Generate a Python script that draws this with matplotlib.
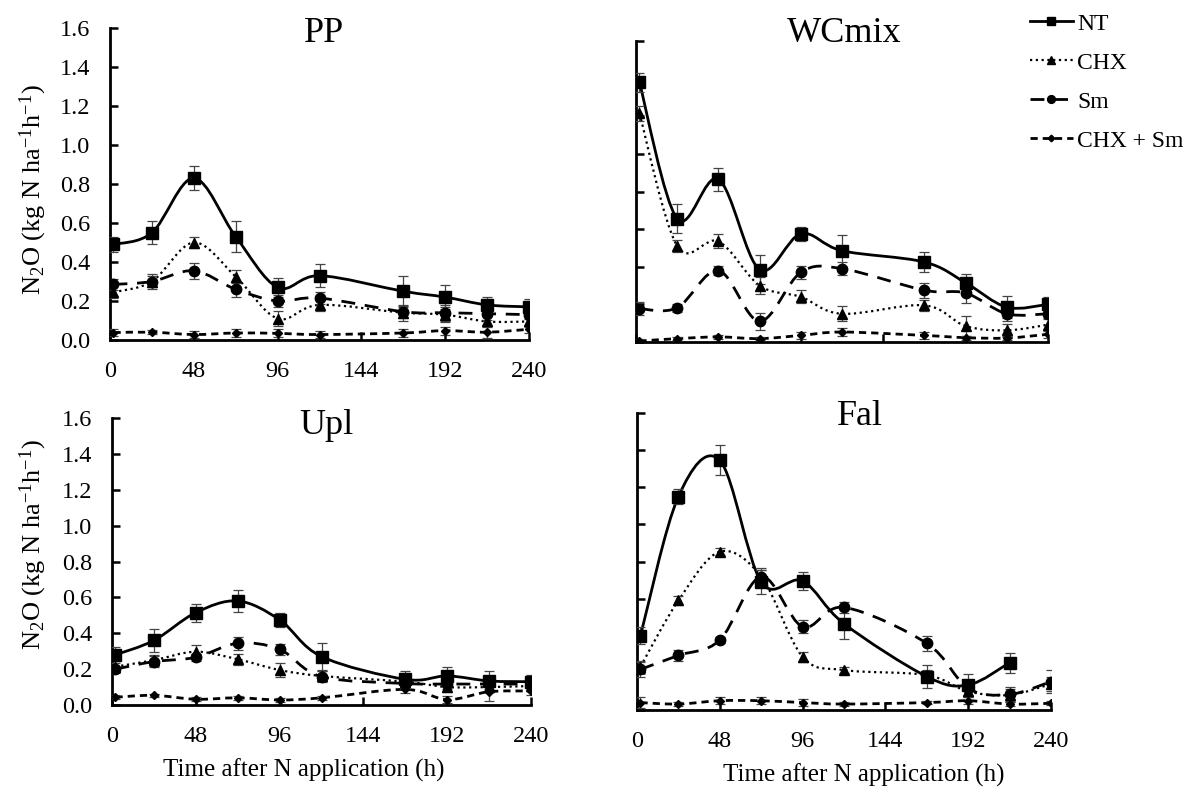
import numpy as np
import matplotlib
matplotlib.use("Agg")
import matplotlib.pyplot as plt
from matplotlib.path import Path
from matplotlib.patches import PathPatch
from matplotlib.lines import Line2D
from matplotlib.ticker import FormatStrFormatter

plt.rcParams["font.family"] = ["Liberation Serif", "DejaVu Serif"]
plt.rcParams["mathtext.fontset"] = "custom"
plt.rcParams["mathtext.rm"] = "Liberation Serif"
plt.rcParams["mathtext.it"] = "Liberation Serif:italic"

# Sampling times (h after N application)
hours = [2, 24, 48, 72, 96, 120, 168, 192, 216, 240]
xticks = [0, 48, 96, 144, 192, 240]
yticks = [0.0, 0.2, 0.4, 0.6, 0.8, 1.0, 1.2, 1.4, 1.6]
treatments = ["NT", "CHX", "Sm", "CHX + Sm"]
panels = ["PP", "WCmix", "Upl", "Fal"]

# N2O flux means (kg N ha-1 h-1)
pp_nt = [0.49, 0.55, 0.83, 0.53, 0.27, 0.33, 0.25, 0.22, 0.18, 0.17]
pp_chx = [0.245, 0.30, 0.50, 0.325, 0.11, 0.18, 0.14, 0.13, 0.095, 0.095]
pp_sm = [0.285, 0.30, 0.355, 0.26, 0.20, 0.215, 0.145, 0.14, 0.135, 0.13]
pp_chxsm = [0.038, 0.04, 0.028, 0.036, 0.034, 0.028, 0.036, 0.048, 0.04, 0.055]

wc_nt = [1.38, 0.655, 0.865, 0.385, 0.575, 0.485, 0.425, 0.315, 0.185, 0.20]
wc_chx = [1.215, 0.51, 0.535, 0.30, 0.24, 0.15, 0.195, 0.085, 0.062, 0.092]
wc_sm = [0.177, 0.182, 0.38, 0.11, 0.37, 0.39, 0.275, 0.26, 0.15, 0.15]
wc_chxsm = [0.005, 0.018, 0.027, 0.018, 0.035, 0.053, 0.035, 0.023, 0.021, 0.041]

up_nt = [0.28, 0.36, 0.515, 0.58, 0.475, 0.27, 0.143, 0.162, 0.134, 0.13]
up_chx = [0.214, 0.25, 0.297, 0.255, 0.195, 0.162, 0.13, 0.10, 0.10, 0.106]
up_sm = [0.20, 0.242, 0.266, 0.344, 0.31, 0.158, 0.12, 0.117, 0.117, 0.117]
up_chxsm = [0.043, 0.054, 0.032, 0.04, 0.028, 0.04, 0.087, 0.03, 0.074, 0.078]

fa_nt = [0.40, 1.15, 1.345, 0.69, 0.695, 0.465, 0.18, 0.135, 0.255, np.nan]
fa_chx = [0.233, 0.59, 0.853, 0.718, 0.287, 0.215, 0.188, 0.10, 0.081, 0.14]
fa_sm = [0.219, 0.294, 0.377, 0.718, 0.449, 0.553, 0.359, 0.117, 0.084, 0.153]
fa_chxsm = [0.04, 0.032, 0.05, 0.05, 0.04, 0.032, 0.04, 0.05, 0.032, 0.036]

# Standard errors
pp_nt_se = [0.04, 0.06, 0.06, 0.08, 0.05, 0.06, 0.08, 0.06, 0.04, 0.04]
pp_chx_se = [0.03, 0.03, 0.03, 0.035, 0.04, 0.03, 0.04, 0.04, 0.03, 0.03]
pp_sm_se = [0.03, 0.04, 0.04, 0.04, 0.03, 0.03, 0.03, 0.04, 0.03, 0.02]
pp_chxsm_se = [0.02, 0.01, 0.02, 0.02, 0.02, 0.02, 0.02, 0.02, 0.03, 0.02]

wc_nt_se = [0.05, 0.078, 0.062, 0.075, 0.037, 0.084, 0.053, 0.044, 0.06, 0.037]
wc_chx_se = [0.04, 0.034, 0.037, 0.046, 0.034, 0.04, 0.03, 0.053, 0.034, 0.03]
wc_sm_se = [0.035, 0.02, 0.025, 0.044, 0.035, 0.035, 0.04, 0.053, 0.04, 0.02]
wc_chxsm_se = [0.01, 0.01, 0.01, 0.01, 0.02, 0.02, 0.02, 0.01, 0.01, 0.02]

up_nt_se = [0.046, 0.062, 0.05, 0.062, 0.04, 0.074, 0.048, 0.052, 0.056, 0.037]
up_chx_se = [0.03, 0.03, 0.035, 0.03, 0.04, 0.03, 0.03, 0.03, 0.03, 0.03]
up_sm_se = [0.02, 0.03, 0.02, 0.035, 0.03, 0.03, 0.03, 0.03, 0.03, 0.03]
up_chxsm_se = [0.01, 0.01, 0.01, 0.01, 0.01, 0.01, 0.02, 0.02, 0.05, 0.02]

fa_nt_se = [0.045, 0.038, 0.08, 0.063, 0.05, 0.08, 0.06, 0.058, 0.054, np.nan]
fa_chx_se = [0.03, 0.025, 0.018, 0.036, 0.027, 0.018, 0.03, 0.03, 0.03, 0.04]
fa_sm_se = [0.04, 0.03, 0.018, 0.045, 0.036, 0.03, 0.04, 0.043, 0.04, 0.063]
fa_chxsm_se = [0.03, 0.01, 0.02, 0.02, 0.02, 0.01, 0.01, 0.02, 0.01, 0.01]

means = {
    "PP": [pp_nt, pp_chx, pp_sm, pp_chxsm],
    "WCmix": [wc_nt, wc_chx, wc_sm, wc_chxsm],
    "Upl": [up_nt, up_chx, up_sm, up_chxsm],
    "Fal": [fa_nt, fa_chx, fa_sm, fa_chxsm],
}
errors = {
    "PP": [pp_nt_se, pp_chx_se, pp_sm_se, pp_chxsm_se],
    "WCmix": [wc_nt_se, wc_chx_se, wc_sm_se, wc_chxsm_se],
    "Upl": [up_nt_se, up_chx_se, up_sm_se, up_chxsm_se],
    "Fal": [fa_nt_se, fa_chx_se, fa_sm_se, fa_chxsm_se],
}

# Line/marker style per treatment
styles = [
    dict(ls="-", lw=2.0, marker="s", ms=8.5),
    dict(ls=(0, (1, 1.6)), lw=1.6, marker="^", ms=7),
    dict(ls=(0, (5, 3.5)), lw=2.0, marker="o", ms=7.5),
    dict(ls=(0, (2.6, 1.8)), lw=2.0, marker="D", ms=4.5),
]

W, H = 1192, 788
fig = plt.figure(figsize=(W / 100, H / 100), dpi=100)


def px_axes(x0, x1, ytop, ybot):
    return fig.add_axes([x0 / W, 1 - ybot / H, (x1 - x0) / W, (ybot - ytop) / H])


def fig_text(x, y, s, **kw):
    return fig.text(x / W, 1 - y / H, s, **kw)


# axes boxes in pixels: left, right, top, bottom
boxes = {
    "PP": (110, 529, 28, 340),
    "WCmix": (636, 1048, 41, 342),
    "Upl": (112, 531, 418, 705),
    "Fal": (637, 1051, 413, 710),
}
title_pos = {"PP": (324, 34), "WCmix": (844, 33), "Upl": (326, 425), "Fal": (860, 417)}
ylabel_pos = {"PP": (33, 190), "Upl": (33, 545)}
xlabel_pos = {"Upl": (304, 770), "Fal": (864, 775)}


def smooth_path(xs, ys):
    """Cubic Bezier path through the points (spreadsheet-style smoothed line)."""
    pts = np.column_stack([xs, ys])
    n = len(pts)
    verts = [pts[0]]
    codes = [Path.MOVETO]
    for i in range(n - 1):
        p0 = pts[i - 1] if i > 0 else pts[i]
        p1 = pts[i]
        p2 = pts[i + 1]
        p3 = pts[i + 2] if i + 2 < n else pts[i + 1]
        c1 = p1 + (p2 - p0) / 6.0
        c2 = p2 - (p3 - p1) / 6.0
        verts += [c1, c2, p2]
        codes += [Path.CURVE4] * 3
    return Path(verts, codes)


for name in panels:
    x0, x1, yt, yb = boxes[name]
    ax = px_axes(x0, x1, yt, yb)
    for k in range(4):
        y = np.asarray(means[name][k], float)
        e = np.asarray(errors[name][k], float)
        t = np.asarray(hours, float)
        ok = ~np.isnan(y)
        st = styles[k]
        path = smooth_path(t[ok], y[ok])
        ax.add_patch(PathPatch(path, fill=False, edgecolor="black", lw=st["lw"],
                               linestyle=st["ls"], capstyle="butt", zorder=2))
        ax.errorbar(t[ok], y[ok], yerr=e[ok], fmt="none", ecolor="#444444",
                    elinewidth=0.9, capsize=3.5, capthick=0.9, zorder=3)
        ax.plot(t[ok], y[ok], linestyle="none", marker=st["marker"], ms=st["ms"],
                color="black", zorder=4)
    ax.set_xlim(0, 240)
    ax.set_ylim(0, 1.6)
    ax.set_xticks(xticks)
    ax.set_yticks(yticks)
    for s in ("top", "right"):
        ax.spines[s].set_visible(False)
    for s in ("left", "bottom"):
        ax.spines[s].set_linewidth(2.0)
    ax.tick_params(direction="in", length=6, width=1.8, labelsize=17.5)
    ax.tick_params(axis="y", pad=14)
    ax.tick_params(axis="x", pad=15)
    ax.set_facecolor("none")
    if name in ("PP", "Upl"):
        ax.yaxis.set_major_formatter(FormatStrFormatter("%.1f"))
        lx, ly = ylabel_pos[name]
        fig_text(lx, ly, r"N$_2$O (kg N ha$^{-1}$h$^{-1}$)", fontsize=19,
                 rotation=90, ha="center", va="center")
    else:
        ax.set_yticklabels([])
    if name == "WCmix":
        ax.set_xticklabels([])
    if name in xlabel_pos:
        lx, ly = xlabel_pos[name]
        fig_text(lx, ly, "Time after N application (h)", fontsize=18,
                 ha="center", va="center")
    tx, ty = title_pos[name]
    fig_text(tx, ty, name, fontsize=26, ha="center", va="center")

handles = [Line2D([], [], color="black", linestyle=st["ls"], lw=st["lw"],
                  marker=st["marker"], ms=st["ms"] * 0.75) for st in styles]
fig.legend(handles, treatments, loc="upper left", bbox_to_anchor=(1030 / W, 1 - 13 / H),
           frameon=False, fontsize=17, handlelength=1.8, handletextpad=0.2,
           labelspacing=0.74, borderaxespad=0, borderpad=0)

fig.savefig("out.png", dpi=100, facecolor="white")
